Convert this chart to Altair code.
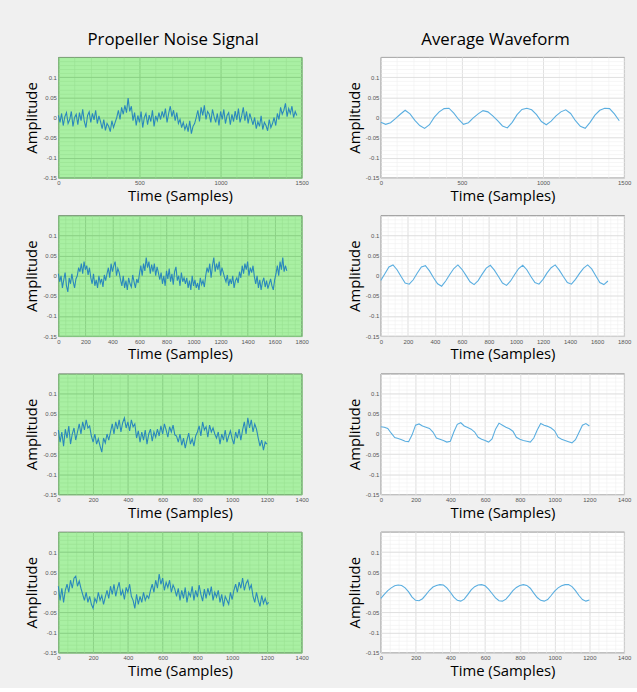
import altair as alt
import numpy as np
import pandas as pd

# ---------------- data ----------------
# Left column: raw propeller noise signal, one value every 10 samples
noise1_step = 10
noise1 = [0.005, -0.012, 0.01, -0.02, 0.002, 0.012, -0.015, -0.005, 0.015, -0.022, 0.0, 0.008, -0.018, 0.012, -0.008, 0.02, -0.01, -0.025, 0.005, 0.014, -0.012, 0.01, -0.006, 0.018, -0.015, 0.004,
          -0.01, -0.028, -0.005, -0.032, -0.015, -0.022, -0.035, -0.008, -0.025, -0.012,
          0.0, 0.018, -0.005, 0.025, 0.008, 0.03, 0.012, 0.048, 0.015, 0.028,
          -0.008, 0.012, -0.02, 0.005, -0.012, 0.015, -0.025, 0.0, 0.01, -0.018, 0.006, -0.01, 0.018, -0.022, 0.004, -0.008, 0.012,
          -0.005, 0.015, 0.0, 0.022, -0.012, 0.01, 0.028, 0.002, 0.018, -0.008, 0.012, -0.015,
          -0.005, -0.025, -0.012, -0.03, -0.018, -0.035, -0.008, -0.04, -0.022, -0.015,
          0.0, 0.018, -0.01, 0.025, 0.005, 0.03, -0.005, 0.015, 0.008, -0.012, 0.02, 0.002,
          -0.012, 0.01, -0.02, 0.015, -0.005, 0.02, -0.015, 0.005, 0.012, -0.018, 0.008, -0.01, 0.016, -0.006, 0.022, -0.012, 0.004, 0.025, -0.008, 0.015, -0.015, 0.01, -0.004,
          -0.018, 0.0, -0.028, -0.01, -0.022, 0.004, -0.03, -0.012, -0.02, -0.033, -0.005, -0.025, -0.015, 0.0, -0.02,
          0.01, -0.005, 0.025, 0.008, 0.018, 0.035, 0.002, 0.022, 0.01, 0.028, 0.0, 0.015, 0.005]

noise2_step = 10
noise2 = [0.005, -0.015, 0.0, -0.03, -0.01, 0.008, -0.025, -0.04, -0.005, -0.02, 0.005, -0.015, -0.03, -0.008,
          0.0, 0.02, 0.01, 0.03, 0.005, 0.035, 0.015, 0.025, 0.002, 0.02,
          -0.005, -0.02, 0.005, -0.025, -0.01, -0.03, 0.0, -0.018, -0.008, -0.028, 0.002, -0.012,
          0.005, 0.02, -0.005, 0.03, 0.01, 0.025, 0.035, 0.0, 0.018, 0.008,
          -0.01, -0.025, 0.0, -0.03, -0.012, -0.035, -0.005, -0.02, -0.028, 0.002, -0.015, -0.03, -0.008, -0.018,
          0.005, 0.025, 0.0, 0.03, 0.012, 0.045, 0.02, 0.035, 0.005, 0.028, 0.01, 0.03, 0.0, 0.022, 0.008,
          -0.01, 0.008, -0.02, 0.0, -0.025, 0.012, -0.008, 0.018, -0.015, 0.005, -0.022, 0.01, 0.022, -0.012, 0.0, -0.025, 0.008, -0.015, -0.005,
          -0.02, -0.005, -0.03, -0.012, -0.035, 0.0, -0.025, -0.01, -0.03, -0.018, -0.035, -0.005, -0.022, -0.012, -0.028,
          0.0, 0.02, 0.008, 0.03, -0.005, 0.025, 0.045, 0.01, 0.03, 0.015, 0.035, 0.0, 0.02, 0.008, -0.005,
          -0.015, 0.002, -0.025, -0.008, -0.02, 0.0, -0.03, -0.012, -0.005, -0.018,
          0.01, -0.005, 0.025, 0.005, 0.03, 0.015, 0.035, 0.0, 0.02, 0.008, 0.025, -0.002,
          -0.02, 0.0, -0.03, -0.01, -0.035, -0.015, -0.005, -0.028, -0.012, -0.032, -0.02, -0.008, -0.025, -0.035, -0.01,
          0.005, 0.025, 0.0, 0.035, 0.015, 0.045, 0.01, 0.025, 0.012]

noise3_step = 10
noise3 = [0.01, -0.02, 0.005, -0.03, 0.012, -0.01, 0.02, -0.025, 0.0, 0.015, -0.015,
          0.005, 0.025, 0.0, 0.03, 0.01, 0.035, 0.015, 0.02,
          -0.005, -0.02, 0.0, -0.025, -0.012, -0.03, -0.045, -0.01, -0.022, 0.0, -0.015,
          0.005, 0.025, 0.0, 0.03, 0.012, 0.035, 0.005, 0.028, 0.04, 0.015, 0.03, 0.008, 0.035, 0.018, 0.025,
          -0.01, 0.008, -0.02, 0.005, -0.015, 0.01, -0.025, 0.0, 0.012, -0.018, 0.005, -0.008,
          0.012, -0.005, 0.02, 0.0, 0.025, 0.01, -0.008, 0.018, 0.005, 0.022, -0.002,
          -0.005, -0.02, 0.0, -0.028, -0.01, -0.035, -0.015, 0.002, -0.025, -0.012, -0.03, -0.005,
          0.005, 0.02, -0.005, 0.03, 0.01, 0.018, -0.008, 0.022, 0.005, 0.015, 0.0,
          -0.01, 0.005, -0.025, 0.0, -0.015, 0.01, -0.02, -0.005, 0.008, -0.012, -0.025, 0.005, -0.01, 0.012, -0.015,
          0.01, 0.03, 0.0, 0.04, 0.015, 0.035, 0.005, 0.025, 0.012,
          -0.01, -0.03, -0.015, -0.04, -0.02, -0.025]

noise4_step = 10
noise4 = [0.015, -0.02, 0.01, -0.025, 0.005,
          0.02, 0.0, 0.03, 0.01, 0.035, 0.04, 0.015, 0.028, 0.01,
          -0.005, -0.02, 0.0, -0.025, -0.01, -0.03, -0.04, -0.015, -0.025, 0.0, -0.02, -0.008, -0.03, -0.012,
          0.005, -0.015, 0.015, -0.005, 0.02, -0.01, 0.01, 0.025, -0.008, 0.005, -0.018, 0.012, 0.0, 0.02, -0.01,
          -0.02, -0.04, -0.005, -0.03, -0.01, -0.025, 0.0, -0.02, -0.008, -0.015,
          0.005, 0.02, 0.0, 0.03, 0.01, 0.045, 0.02, 0.035, 0.005, 0.025, 0.012, 0.03, 0.0, 0.018, 0.008,
          -0.01, 0.01, -0.02, 0.005, -0.015, 0.012, -0.025, 0.0, -0.01, 0.015, -0.02, 0.005, -0.012, 0.018, -0.005, -0.022, 0.008, -0.015, 0.01, -0.008, 0.014, -0.02, 0.0, -0.012, 0.005,
          -0.025, -0.005, -0.035, -0.01, -0.02, -0.03, 0.0, -0.018,
          0.005, 0.02, 0.0, 0.025, 0.01, 0.035, 0.005, 0.022, 0.03, 0.008, 0.018,
          -0.01, -0.025, 0.0, -0.02, -0.035, -0.008, -0.028, -0.015, -0.03, -0.025]

# Right column: average waveform
avg1_step = 30
avg1 = [-0.012, -0.017, -0.013, -0.003, 0.008, 0.018, 0.009, -0.007, -0.02, -0.027,
        -0.018, 0.001, 0.014, 0.022, 0.023, 0.011, -0.005, -0.017, -0.013, -0.001,
        0.009, 0.017, 0.014, 0.004, -0.008, -0.021, -0.026, -0.012, 0.007, 0.02,
        0.023, 0.019, 0.007, -0.01, -0.018, -0.009, 0.004, 0.014, 0.019, 0.01,
        -0.008, -0.022, -0.027, -0.012, 0.006, 0.018, 0.023, 0.022, 0.009, -0.008]

avg2_step = 30
avg2 = [-0.012, 0.005, 0.022, 0.027, 0.015, -0.002, -0.018, -0.021, -0.01, 0.007,
        0.022, 0.025, 0.012, -0.005, -0.02, -0.026, -0.013, 0.003, 0.018, 0.027,
        0.016, 0.001, -0.015, -0.022, -0.012, 0.004, 0.019, 0.026, 0.014, -0.002,
        -0.018, -0.024, -0.013, 0.003, 0.018, 0.026, 0.015, -0.002, -0.017, -0.021,
        -0.009, 0.007, 0.02, 0.027, 0.014, -0.002, -0.017, -0.021, -0.009, 0.006,
        0.019, 0.027, 0.017, 0.0, -0.017, -0.022, -0.013]

avg3_step = 20
avg3 = [0.018, 0.017, 0.014, 0.002, -0.009, -0.011, -0.014, -0.018, -0.019, -0.002,
        0.022, 0.025, 0.02, 0.017, 0.014, 0.005, -0.01, -0.013, -0.016, -0.02,
        -0.018, 0.005, 0.024, 0.028, 0.02, 0.016, 0.012, 0.005, -0.008, -0.013,
        -0.016, -0.02, -0.012, 0.012, 0.027, 0.022, 0.017, 0.013, 0.007, -0.008,
        -0.013, -0.016, -0.018, -0.02, -0.01, 0.01, 0.026, 0.022, 0.019, 0.015,
        0.008, -0.008, -0.013, -0.016, -0.019, -0.022, -0.014, 0.004, 0.022, 0.026,
        0.02]

avg4_step = 20
avg4 = [-0.015, -0.005, 0.004, 0.011, 0.016, 0.018, 0.017, 0.011, 0.001, -0.012,
        -0.02, -0.021, -0.016, -0.006, 0.005, 0.013, 0.017, 0.019, 0.018, 0.011,
        0.0, -0.012, -0.02, -0.022, -0.017, -0.006, 0.006, 0.014, 0.018, 0.019,
        0.016, 0.008, -0.003, -0.014, -0.021, -0.022, -0.017, -0.007, 0.004, 0.012,
        0.017, 0.019, 0.017, 0.01, -0.002, -0.013, -0.02, -0.022, -0.018, -0.008,
        0.003, 0.011, 0.016, 0.019, 0.019, 0.014, 0.004, -0.008, -0.018, -0.022,
        -0.019]

# axis ranges / tick labels per row
row_xmax = [1500, 1800, 1400, 1400]
row_xticks = [[0, 500, 1000, 1500],
              [0, 200, 400, 600, 800, 1000, 1200, 1400, 1600, 1800],
              [0, 200, 400, 600, 800, 1000, 1200, 1400],
              [0, 200, 400, 600, 800, 1000, 1200, 1400]]
row_minor = [100, 50, 50, 50]
y_ticks = [-0.15, -0.1, -0.05, 0, 0.05, 0.1]
col_titles = ["Propeller Noise Signal", "Average Waveform"]
x_title = "Time (Samples)"
y_title = "Amplitude"

noise = [(noise1, noise1_step), (noise2, noise2_step), (noise3, noise3_step), (noise4, noise4_step)]
avgs = [(avg1, avg1_step), (avg2, avg2_step), (avg3, avg3_step), (avg4, avg4_step)]

W, H = 246, 122

STYLE = {
    "green": dict(fill="#a9f0a3", minor="#99e093", major="#86cc82", line="#2a88bc", lw=1.1),
    "white": dict(fill="#ffffff", minor="#f0f0f0", major="#dadada", line="#5aaee0", lw=1.1),
}


def panel(values, step, xmax, xticks, minor_step, kind, title=None):
    st = STYLE[kind]
    df = pd.DataFrame({"t": np.arange(len(values)) * step, "a": values})
    xs = alt.Scale(domain=[0, xmax], nice=False, zero=False)
    ys = alt.Scale(domain=[-0.15, 0.15], nice=False, zero=False)
    minor_x = list(range(0, xmax + 1, minor_step))
    minor_y = [round(-0.15 + 0.01 * i, 3) for i in range(31)]
    minor = alt.Chart(df).mark_line(opacity=0).encode(
        x=alt.X("t:Q", scale=xs, axis=alt.Axis(values=minor_x, grid=True, gridColor=st["minor"], gridWidth=0.6,
                                               labels=False, ticks=False, domain=False, title=None,
                                               orient="bottom", minExtent=0, maxExtent=0)),
        y=alt.Y("a:Q", scale=ys, axis=alt.Axis(values=minor_y, grid=True, gridColor=st["minor"], gridWidth=0.6,
                                               labels=False, ticks=False, domain=False, title=None,
                                               orient="left", minExtent=0, maxExtent=0)),
    )
    main = alt.Chart(df).mark_line(color=st["line"], strokeWidth=st["lw"]).encode(
        x=alt.X("t:Q", scale=xs, axis=alt.Axis(values=xticks, grid=True, gridColor=st["major"], gridWidth=0.8,
                                               title=x_title, orient="bottom", labelFlush=False,
                                               labelExpr="'' + datum.value")),
        y=alt.Y("a:Q", scale=ys, axis=alt.Axis(values=y_ticks, grid=True, gridColor=st["major"], gridWidth=0.8,
                                               title=y_title, orient="left",
                                               labelExpr="'' + datum.value")),
    )
    props = dict(width=W, height=H, view=alt.ViewBackground(fill=st["fill"], stroke="#3a3a3a", strokeWidth=0.8))
    if title:
        props["title"] = alt.TitleParams(title, fontSize=17, font="Open Sans", fontWeight="normal",
                                         color="black", anchor="middle", frame="group", offset=8, dx=-7)
    return alt.layer(minor, main).resolve_axis(x="independent", y="independent").properties(**props)


rows = []
for i in range(4):
    nv, ns = noise[i]
    av, as_ = avgs[i]
    left = panel(nv, ns, row_xmax[i], row_xticks[i], row_minor[i], "green", col_titles[0] if i == 0 else None)
    right = panel(av, as_, row_xmax[i], row_xticks[i], row_minor[i], "white", col_titles[1] if i == 0 else None)
    rows.append(alt.hconcat(left, right, spacing=37))

chart = alt.vconcat(*rows, spacing=10).properties(
    background="#f0f0f0",
    padding={"left": 24, "top": 27, "right": 5, "bottom": 5},
).configure_axis(
    labelFont="Liberation Sans", labelFontSize=6, labelColor="#555555", labelPadding=2,
    titleFont="Open Sans", titleFontSize=15, titleFontWeight="normal", titleColor="black",
    titlePadding=3, ticks=False, domain=False,
).configure_concat(spacing=10)

chart.save("out.html", embed_options={"renderer": "svg", "actions": False})
